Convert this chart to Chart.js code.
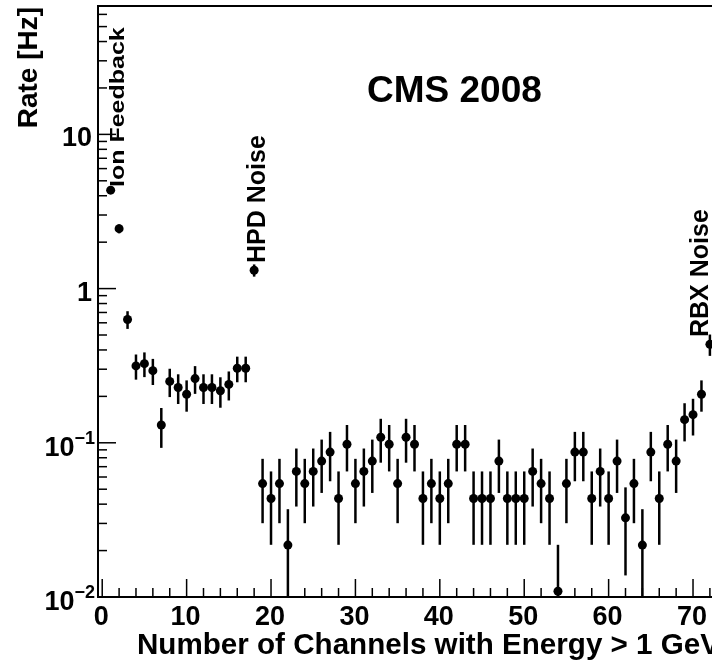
<!DOCTYPE html>
<html>
<head>
<meta charset="utf-8">
<script src="https://cdn.jsdelivr.net/npm/chart.js@4/dist/chart.umd.min.js"></script>
<style>
  html, body { margin: 0; padding: 0; overflow: hidden; background: #fff; }
  #wrap { position: relative; width: 760px; height: 661px; }
</style>
</head>
<body>
<div id="wrap"><canvas id="chart"></canvas></div>
<script>
// channel multiplicity (bin centres)
const channels = [
  1, 2, 3, 4, 5, 6, 7, 8, 9, 10, 11, 12, 13, 14, 15, 16, 17, 18,
  19, 20, 21, 22, 23, 24, 25, 26, 27, 28, 29, 30, 31, 32, 33, 34, 35, 36,
  37, 38, 39, 40, 41, 42, 43, 44, 45, 46, 47, 48, 49, 50, 51, 52, 53, 54,
  55, 56, 57, 58, 59, 60, 61, 62, 63, 64, 65, 66, 67, 68, 69, 70, 71, 72
];

// rate in Hz
const rates = [
  4.348, 2.446, 0.6305, 0.3152, 0.3261, 0.2935, 0.1304, 0.2500, 0.2283, 0.2065, 0.2609, 0.2283, 0.2283, 0.2174, 0.2391, 0.3044, 0.3044, 1.315,
  0.0544, 0.0435, 0.0544, 0.0217, 0.0652, 0.0544, 0.0652, 0.0761, 0.0870, 0.0435, 0.0978, 0.0544, 0.0652, 0.0761, 0.1087, 0.0978, 0.0544, 0.1087,
  0.0978, 0.0435, 0.0544, 0.0435, 0.0544, 0.0978, 0.0978, 0.0435, 0.0435, 0.0435, 0.0761, 0.0435, 0.0435, 0.0435, 0.0652, 0.0544, 0.0435, 0.0109,
  0.0544, 0.0870, 0.0870, 0.0435, 0.0652, 0.0435, 0.0761, 0.0326, 0.0544, 0.0217, 0.0870, 0.0435, 0.0978, 0.0761, 0.1413, 0.1522, 0.2065, 0.4348
];

// symmetric errors in Hz
const rateErrors = [
  0.2174, 0.1631, 0.0828, 0.0585, 0.0595, 0.0565, 0.0377, 0.0521, 0.0498, 0.0474, 0.0533, 0.0498, 0.0498, 0.0486, 0.0510, 0.0575, 0.0575, 0.1196,
  0.0243, 0.0217, 0.0243, 0.0154, 0.0266, 0.0243, 0.0266, 0.0288, 0.0307, 0.0217, 0.0326, 0.0243, 0.0266, 0.0288, 0.0344, 0.0326, 0.0243, 0.0344,
  0.0326, 0.0217, 0.0243, 0.0217, 0.0243, 0.0326, 0.0326, 0.0217, 0.0217, 0.0217, 0.0288, 0.0217, 0.0217, 0.0217, 0.0266, 0.0243, 0.0217, 0.0109,
  0.0243, 0.0307, 0.0307, 0.0217, 0.0266, 0.0217, 0.0288, 0.0188, 0.0243, 0.0154, 0.0307, 0.0217, 0.0326, 0.0288, 0.0392, 0.0407, 0.0474, 0.0687
];

const xTickValues = [0, 10, 20, 30, 40, 50, 60, 70];
const xTickLabels = ['0', '10', '20', '30', '40', '50', '60', '70'];
const yTickValues = [0.01, 0.1, 1, 10];
const yTickLabels = [['10', '\u22122'], ['10', '\u22121'], ['1', ''], ['10', '']];

const xTitle = 'Number of Channels with Energy > 1 GeV';
const yTitle = 'Rate [Hz]';
const headline = 'CMS 2008';

const FONT = '"Liberation Sans", Arial, Helvetica, sans-serif';
const Y_MIN = 0.01, Y_MAX = 68;

function bold(px) { return 'bold ' + px + 'px ' + FONT; }

function vText(ctx, text, x, y, size, align, squash) {
  ctx.save();
  ctx.translate(x, y);
  ctx.rotate(-Math.PI / 2);
  if (squash) ctx.scale(1, squash);
  ctx.font = bold(size);
  ctx.textAlign = align;
  ctx.textBaseline = 'alphabetic';
  ctx.fillText(text, 0, 0);
  ctx.restore();
}

const rootStyle = {
  id: 'rootStyle',
  beforeDatasetsDraw(chart) {
    const ctx = chart.ctx, xs = chart.scales.x, ys = chart.scales.y;
    const area = chart.chartArea;
    ctx.save();
    ctx.strokeStyle = '#000';
    ctx.lineWidth = 2.5;
    for (let i = 0; i < channels.length; i++) {
      const px = xs.getPixelForValue(channels[i]);
      const hi = ys.getPixelForValue(rates[i] + rateErrors[i]);
      const lowVal = rates[i] - rateErrors[i];
      const lo = lowVal > Y_MIN ? ys.getPixelForValue(lowVal) : area.bottom;
      ctx.beginPath();
      ctx.moveTo(px, hi);
      ctx.lineTo(px, lo);
      ctx.stroke();
    }
    ctx.restore();
  },
  afterDraw(chart) {
    const ctx = chart.ctx, xs = chart.scales.x, ys = chart.scales.y;
    const a = chart.chartArea;
    ctx.save();
    ctx.fillStyle = '#000';
    ctx.strokeStyle = '#000';

    // frame
    ctx.lineWidth = 2;
    ctx.strokeRect(a.left, a.top, a.right - a.left, a.bottom - a.top);

    // x ticks (inside)
    ctx.lineWidth = 1.5;
    for (let v = 0; v <= xs.max; v += 2) {
      const px = xs.getPixelForValue(v);
      const len = v % 10 === 0 ? 18 : 9;
      ctx.beginPath();
      ctx.moveTo(px, a.bottom);
      ctx.lineTo(px, a.bottom - len);
      ctx.stroke();
    }
    // y ticks (inside)
    for (const d of yTickValues) {
      for (let m = 1; m <= 9; m++) {
        const v = d * m;
        if (v > Y_MAX) break;
        const py = ys.getPixelForValue(v);
        const len = m === 1 ? 18 : 9;
        ctx.beginPath();
        ctx.moveTo(a.left, py);
        ctx.lineTo(a.left + len, py);
        ctx.stroke();
      }
    }

    // x tick labels
    ctx.font = bold(27);
    ctx.textAlign = 'center';
    ctx.textBaseline = 'alphabetic';
    xTickValues.forEach((v, i) => {
      ctx.fillText(xTickLabels[i], xs.getPixelForValue(v) - 1, 625);
    });

    // y tick labels
    yTickValues.forEach((v, i) => {
      const py = ys.getPixelForValue(v);
      const [base, exp] = yTickLabels[i];
      if (exp) {
        ctx.font = bold(18);
        const ew = ctx.measureText(exp).width;
        ctx.textAlign = 'left';
        ctx.fillText(exp, 95 - ew, py + 1);
        ctx.font = bold(27);
        ctx.textAlign = 'right';
        ctx.fillText(base, 95 - ew, py + 13);
      } else {
        ctx.font = bold(27);
        ctx.textAlign = 'right';
        ctx.fillText(base, 92, py + 12);
      }
    });

    // axis titles
    ctx.font = bold(29.6);
    ctx.textAlign = 'left';
    ctx.fillText(xTitle, 137, 654);
    vText(ctx, yTitle, 37, 7, 28, 'right');

    // headline
    ctx.font = bold(37);
    ctx.textAlign = 'left';
    ctx.fillText(headline, 367, 102);

    // annotations
    vText(ctx, 'Ion Feedback', 124, 187, 25, 'left', 0.8);
    vText(ctx, 'HPD Noise', 265, 263, 25, 'left');
    vText(ctx, 'RBX Noise', 708, 337, 25, 'left');

    ctx.restore();
  }
};

new Chart(document.getElementById('chart'), {
  type: 'scatter',
  data: {
    datasets: [{
      data: channels.map((c, i) => ({ x: c, y: rates[i] })),
      pointRadius: 4.5,
      pointHoverRadius: 4.5,
      pointBackgroundColor: '#000',
      pointBorderWidth: 0,
      showLine: false,
      clip: false
    }]
  },
  options: {
    responsive: true,
    maintainAspectRatio: false,
    animation: false,
    events: [],
    layout: { padding: { left: 98, top: 6, right: 29, bottom: 64 } },
    plugins: { legend: { display: false }, tooltip: { enabled: false } },
    scales: {
      x: { type: 'linear', min: -0.5, max: 74.5, bounds: 'data', display: false },
      y: { type: 'logarithmic', min: Y_MIN, max: Y_MAX, bounds: 'data', display: false }
    }
  },
  plugins: [rootStyle]
});
</script>
</body>
</html>
